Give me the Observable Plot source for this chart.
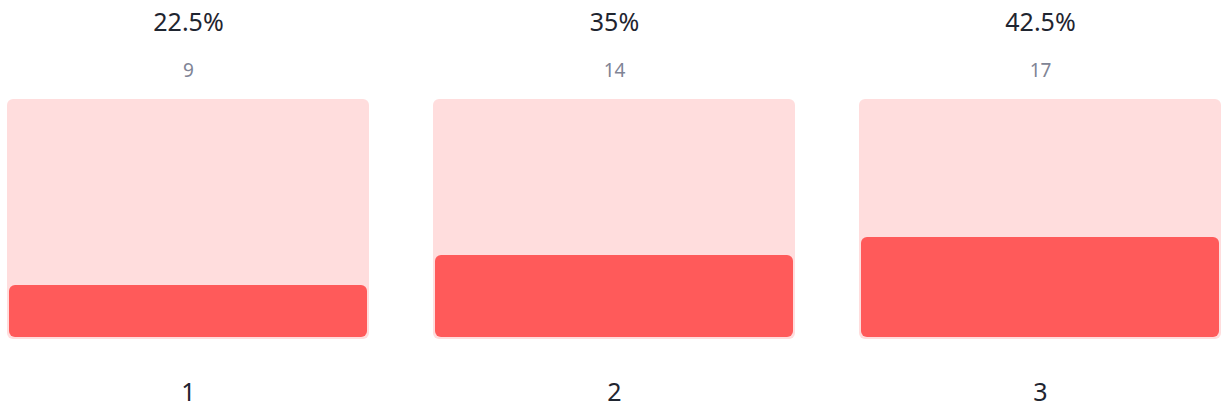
<!DOCTYPE html>
<html>
<head>
<meta charset="utf-8">
<script src="https://cdn.jsdelivr.net/npm/d3@7"></script>
<script src="https://cdn.jsdelivr.net/npm/@observablehq/plot@0.6"></script>
<style>
  html, body { margin: 0; padding: 0; background: #ffffff; }
  #chart svg { display: block; }
</style>
</head>
<body>
<div id="chart"></div>
<script>
const categories = ["1", "2", "3"];
const counts = [9, 14, 17];

const total = d3.sum(counts);
const data = categories.map((c, i) => ({
  cat: c,
  count: counts[i],
  pct: `${+(counts[i] / total * 100).toFixed(1)}%`
}));

const font = "'Noto Sans', 'Open Sans', sans-serif";

const chart = Plot.plot({
  width: 1223,
  height: 409,
  marginTop: 0,
  marginBottom: 0,
  marginLeft: 0,
  marginRight: 0,
  style: { fontFamily: font, background: "#ffffff" },
  x: { type: "band", domain: categories, range: [7, 1222], paddingInner: 0.15, paddingOuter: 0, axis: null },
  y: { domain: [0, total], range: [339, 99], axis: null },
  marks: [
    Plot.barY(data, { x: "cat", y: () => total, fill: "#ffdddd", rx: 6 }),
    Plot.barY(data, { x: "cat", y: "count", fill: "#ff5a5a", rx: 6, insetLeft: 2, insetRight: 2, insetBottom: 2 }),
    Plot.text(data, { x: "cat", frameAnchor: "top", lineAnchor: "middle", dy: 22, text: "pct", fontSize: 25, fill: "#1f2530" }),
    Plot.text(data, { x: "cat", frameAnchor: "top", lineAnchor: "middle", dy: 70, text: d => String(d.count), fontSize: 19, fill: "#808495" }),
    Plot.text(data, { x: "cat", frameAnchor: "bottom", lineAnchor: "middle", dy: -17, text: "cat", fontSize: 25, fill: "#1f2530" })
  ]
});

document.getElementById("chart").appendChild(chart);
</script>
</body>
</html>
